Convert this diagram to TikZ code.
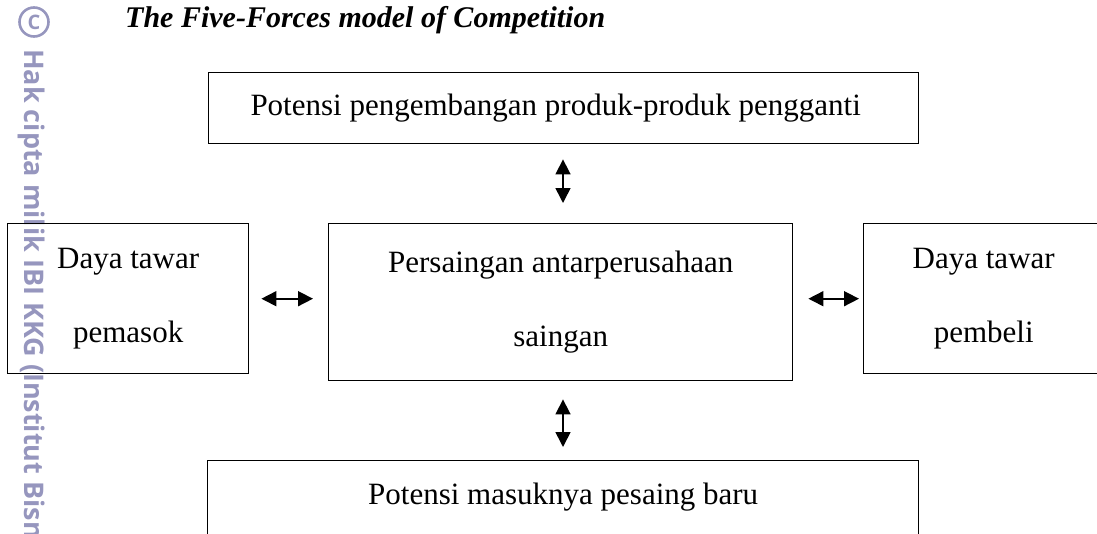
\documentclass[tikz,border=0pt]{standalone}
\usepackage{fontspec}
\setmainfont{Liberation Serif}
\newfontfamily\wmfont{Open Sans}
\usetikzlibrary{arrows.meta}
\definecolor{wmgray}{RGB}{150,150,190}
\tikzset{
  forcebox/.style={draw, line width=1.4pt, inner sep=0pt, align=center, anchor=north west,
    font=\fontsize{31}{74}\selectfont},
  twoway/.style={{Triangle[length=15pt,width=15pt]}-{Triangle[length=15pt,width=15pt]}, line width=1.6pt},
}

\begin{document}
\begin{tikzpicture}[x=1pt,y=-1pt]
  \useasboundingbox (0,0) rectangle (1097,533);
  \clip (0,0) rectangle (1097,533);
  % watermark on the left margin
  \node[wmgray, draw, circle, line width=2.6pt, minimum size=29pt, inner sep=0pt,
    font=\wmfont\bfseries\fontsize{20}{20}\selectfont] (copyc) at (34,22) {C};
  \node[wmgray, rotate=-90, anchor=west, inner sep=0pt,
    font=\wmfont\bfseries\fontsize{27}{27}\selectfont] (wmtext) at (32,49) {Hak cipta milik IBI KKG (Institut Bisn};
  % title
  \node[anchor=base west, inner sep=0pt, font=\fontsize{30}{36}\selectfont\bfseries\itshape] (title) at (125,27)
    {The Five-Forces model of Competition};
  % the five boxes
  \node[forcebox, minimum width=710pt, minimum height=71pt] (subst) at (208,72)
    {Potensi pengembangan produk-produk pengganti\hspace*{16pt}};
  \node[forcebox, minimum width=241pt, minimum height=150pt] (supplier) at (7,223) {Daya tawar\\pemasok};
  \node[forcebox, minimum width=464pt, minimum height=157pt] (rivalry) at (328,223)
    {Persaingan antarperusahaan\\saingan};
  \node[forcebox, minimum width=240pt, minimum height=150pt] (buyer) at (863,223) {Daya tawar\\pembeli};
  \node[forcebox, minimum width=711pt, text height=44pt, text depth=60pt] (entrant) at (207,460)
    {Potensi masuknya pesaing baru};
  % arrows
  \draw[twoway, shorten <=15pt, shorten >=20pt] (subst.south -| 563,0) -- (563,0 |- rivalry.north);
  \draw[twoway, shorten <=12pt, shorten >=15pt] (supplier.east) -- (supplier.east -| rivalry.west);
  \draw[twoway, shorten <=15pt, shorten >=4pt] (rivalry.east |- buyer.west) -- (buyer.west);
  \draw[twoway, shorten <=18pt, shorten >=13pt] (563,0 |- rivalry.south) -- (563,0 |- entrant.north);
\end{tikzpicture}
\end{document}
